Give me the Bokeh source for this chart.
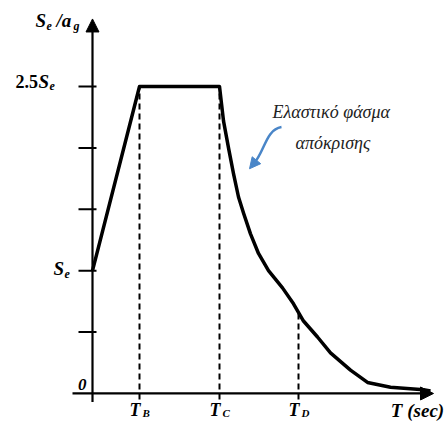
from bokeh.plotting import figure
from bokeh.models import Arrow, NormalHead
from bokeh.core.properties import value
from bokeh.embed import file_html
from bokeh.resources import INLINE

# ---- data (arbitrary units) ----
T_curve = [0.0, 0.47, 1.27, 1.31, 1.36, 1.41, 1.46, 1.51, 1.58, 1.66, 1.76, 1.90, 2.01, 2.11,
           2.25, 2.38, 2.58, 2.75, 2.98, 3.31, 3.38]
Sa_curve = [1.0, 2.5, 2.5, 2.22, 2.00, 1.79, 1.60, 1.47, 1.30, 1.14, 1.00, 0.86, 0.73, 0.59,
            0.46, 0.33, 0.19, 0.09, 0.05, 0.03, 0.02]
period_ticks = [0.47, 1.27, 2.06]
period_subs = ["B", "C", "D"]
period_tops = [2.5, 2.5, 0.66]
y_ticks = [0.5, 1.0, 1.5, 2.0, 2.5]
x_axis_end = 3.41
y_axis_end = 3.05

FONT = value("Liberation Serif, DejaVu Serif, serif")
GFONT = value("'Liberation Serif', 'Times New Roman', serif")

p = figure(width=446, height=426, x_range=(-0.92, 3.54), y_range=(-0.269, 3.2003),
           output_backend="svg", toolbar_location=None, min_border=0)
p.axis.visible = False
p.grid.visible = False
p.outline_line_color = None

# axes
p.line([-0.2, x_axis_end - 0.05], [0, 0], line_color="black", line_width=2.2)
p.line([0, 0], [-0.07, y_axis_end - 0.05], line_color="black", line_width=2.2)
p.add_layout(Arrow(end=NormalHead(size=13, fill_color="black", line_color="black"),
                   x_start=x_axis_end - 0.1, y_start=0, x_end=x_axis_end, y_end=0,
                   line_color="black", line_width=2))
p.add_layout(Arrow(end=NormalHead(size=13, fill_color="black", line_color="black"),
                   x_start=0, y_start=y_axis_end - 0.1, x_end=0, y_end=y_axis_end,
                   line_color="black", line_width=2))

# y ticks
p.segment(x0=[-0.14] * len(y_ticks), x1=[0.04] * len(y_ticks), y0=y_ticks, y1=y_ticks,
          line_color="black", line_width=2)

# dashed period lines
p.segment(x0=period_ticks, x1=period_ticks, y0=[-0.05] * 3, y1=period_tops,
          line_color="black", line_width=2, line_dash="6 4")

# spectrum curve
p.line(T_curve, Sa_curve, line_color="black", line_width=3.5, line_join="round")

BI = dict(text_font=FONT, text_font_style="bold italic", text_baseline="middle")

# y labels
p.text(x=[-0.57], y=[y_axis_end], text=["S"], text_font_size="19px", y_offset=[2], **BI)
p.text(x=[-0.57], y=[y_axis_end], text=["e"], text_font_size="12px", x_offset=[11], y_offset=[7], **BI)
p.text(x=[-0.57], y=[y_axis_end], text=["/a"], text_font_size="19px", x_offset=[21], y_offset=[2], **BI)
p.text(x=[-0.57], y=[y_axis_end], text=["g"], text_font_size="12px", x_offset=[38], y_offset=[7], **BI)

p.text(x=[-0.77], y=[2.5], text=["2.5"], text_font=FONT, text_font_style="bold",
       text_font_size="18px", text_baseline="middle", y_offset=[-5])
p.text(x=[-0.77], y=[2.5], text=["S"], text_font_size="19px", x_offset=[23], y_offset=[-5], **BI)
p.text(x=[-0.77], y=[2.5], text=["e"], text_font_size="12px", x_offset=[34], y_offset=[0], **BI)

p.text(x=[-0.39], y=[1.0], text=["S"], text_font_size="19px", y_offset=[-2], **BI)
p.text(x=[-0.39], y=[1.0], text=["e"], text_font_size="12px", x_offset=[11], y_offset=[3], **BI)

p.text(x=[0], y=[0], text=["0"], text_font_size="17px", text_align="right",
       x_offset=[-6], y_offset=[-9], **BI)

# x labels
p.text(x=period_ticks, y=[0] * 3, text=["T"] * 3, text_font_size="18px",
       x_offset=[-10] * 3, y_offset=[17] * 3, **BI)
p.text(x=period_ticks, y=[0] * 3, text=period_subs, text_font_size="11px",
       x_offset=[3] * 3, y_offset=[20] * 3, **BI)
p.text(x=[x_axis_end], y=[0], text=["T (sec)"], text_font_size="19px", text_align="center",
       x_offset=[-16], y_offset=[17], **BI)

# annotation
p.text(x=[1.80], y=[2.29], text=["Ελαστικό φάσμα"], text_font=GFONT, text_font_style="italic",
       text_font_size="18px", text_baseline="middle", text_color="#222222")
p.text(x=[2.03], y=[2.04], text=["απόκρισης"], text_font=GFONT, text_font_style="italic",
       text_font_size="18px", text_baseline="middle", text_color="#222222")
p.bezier(x0=[1.89], y0=[2.17], x1=[1.61], y1=[1.87], cx0=[1.73], cy0=[2.15], cx1=[1.72], cy1=[1.96],
         line_color="#4a86c8", line_width=2.5)
p.add_layout(Arrow(end=NormalHead(size=11, fill_color="#4a86c8", line_color="#4a86c8"),
                   x_start=1.63, y_start=1.89, x_end=1.57, y_end=1.83,
                   line_color="#4a86c8", line_width=2.5))

open("out.html", "w").write(file_html(p, INLINE))
